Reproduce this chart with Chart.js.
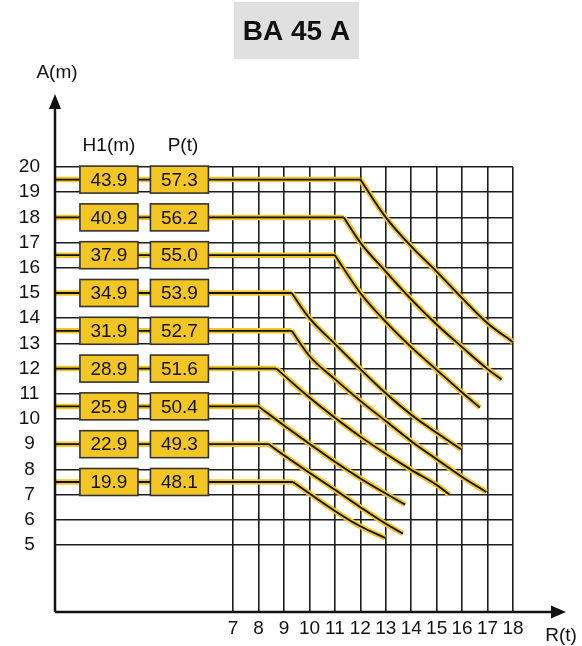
<!DOCTYPE html>
<html>
<head>
<meta charset="utf-8">
<script src="https://cdn.jsdelivr.net/npm/chart.js@4/dist/chart.umd.min.js"></script>
<style>
  html, body { margin: 0; padding: 0; background: #fff; }
  #wrap { width: 582px; height: 646px; position: relative; }
</style>
</head>
<body>
<div id="wrap"><canvas id="c"></canvas></div>
<script>
// diagramma di carico BA 45 A
const title = 'BA 45 A';
const xTicks = [7, 8, 9, 10, 11, 12, 13, 14, 15, 16, 17, 18];
const yTicks = [5, 6, 7, 8, 9, 10, 11, 12, 13, 14, 15, 16, 17, 18, 19, 20];
const levels = [19.5, 18, 16.5, 15, 13.5, 12, 10.5, 9, 7.5];
const h1Labels = ['43.9', '40.9', '37.9', '34.9', '31.9', '28.9', '25.9', '22.9', '19.9'];
const pLabels = ['57.3', '56.2', '55.0', '53.9', '52.7', '51.6', '50.4', '49.3', '48.1'];
const radii = [
  [0, 12, 13, 14, 15, 16, 17, 18],
  [0, 11.35, 12, 13, 14, 15, 16, 17, 17.55],
  [0, 11, 12, 13, 14, 15, 16, 16.7],
  [0, 9.3, 10, 11, 12, 13, 14, 15, 15.95],
  [0, 9.3, 10, 11, 12, 13, 14, 15, 16, 16.95],
  [0, 8.7, 10, 11, 12, 13, 14, 15, 15.5],
  [0, 8, 9, 10, 11, 12, 13, 13.76],
  [0, 8.4, 9, 10, 11, 12, 13, 13.67],
  [0, 9.35, 10, 11, 12, 12.97]
];
const heights = [
  [19.5, 19.5, 18.0, 16.85, 15.85, 14.8, 13.8, 13.05],
  [18, 18, 17.0, 15.85, 14.75, 13.75, 12.85, 11.98, 11.57],
  [16.5, 16.5, 15.0, 13.85, 12.85, 11.95, 11.05, 10.45],
  [15, 15, 14.0, 12.98, 11.98, 11.02, 10.17, 9.45, 8.8],
  [13.5, 13.5, 12.5, 11.58, 10.72, 9.92, 9.12, 8.4, 7.7, 7.1],
  [12, 12, 10.85, 10.05, 9.3, 8.62, 7.98, 7.38, 7.0],
  [10.5, 10.5, 9.74, 9.02, 8.3, 7.64, 7.04, 6.6],
  [9, 9, 8.56, 7.87, 7.19, 6.5, 5.84, 5.45],
  [7.5, 7.5, 7.04, 6.35, 5.74, 5.28]
];

const FONT = '"Liberation Sans", Arial, sans-serif';
const GOLD = '#f3c623';
const INK = '#111';

// ogni curva: tratto orizzontale fino al punto di rottura + tratto curvo
const datasets = [];
radii.forEach(function(xs, i){
  const pts = xs.map(function(x, k){ return { x: x, y: heights[i][k] }; });
  const flat = pts.slice(0, 2), bend = pts.slice(1);
  [[flat, 'default'], [bend, 'monotone']].forEach(function(p){
    datasets.push({ data: p[0], borderColor: INK, borderWidth: 1.8, order: 1, cubicInterpolationMode: p[1] });
    datasets.push({ data: p[0], borderColor: GOLD, borderWidth: 5.5, order: 2, cubicInterpolationMode: p[1] });
  });
});

const decor = {
  id: 'decor',
  afterDraw: function(chart){
    const ctx = chart.ctx, a = chart.chartArea;
    const xs = chart.scales.x, ys = chart.scales.y;
    ctx.save();
    // titolo
    ctx.fillStyle = '#e0e0e0';
    ctx.fillRect(234, 2, 125, 57);
    ctx.fillStyle = INK;
    ctx.font = 'bold 28px ' + FONT;
    ctx.textAlign = 'center'; ctx.textBaseline = 'middle';
    ctx.fillText(title, 296.5, 32);
    // frecce assi
    ctx.strokeStyle = INK; ctx.fillStyle = INK; ctx.lineWidth = 2.5;
    ctx.beginPath();
    ctx.moveTo(a.left, a.bottom); ctx.lineTo(a.left, 105);
    ctx.moveTo(a.left, a.bottom); ctx.lineTo(556, a.bottom);
    ctx.stroke();
    ctx.beginPath();
    ctx.moveTo(a.left, 94); ctx.lineTo(a.left - 6, 109); ctx.lineTo(a.left + 6, 109); ctx.closePath();
    ctx.fill();
    ctx.beginPath();
    ctx.moveTo(566, a.bottom); ctx.lineTo(551, a.bottom - 6.5); ctx.lineTo(551, a.bottom + 6.5); ctx.closePath();
    ctx.fill();
    ctx.font = '19px ' + FONT;
    ctx.fillText('A(m)', 57, 73);
    ctx.fillText('R(t)', 561, 636);
    ctx.fillText('H1(m)', 109, 146);
    ctx.fillText('P(t)', 183, 146);
    // riquadri valori
    const bw = 58, bh = 27;
    levels.forEach(function(lv, i){
      const py = ys.getPixelForValue(lv);
      [[xs.getPixelForValue(2.12), h1Labels[i]], [xs.getPixelForValue(4.89), pLabels[i]]].forEach(function(b){
        ctx.fillStyle = GOLD;
        ctx.fillRect(b[0] - bw / 2, py - bh / 2, bw, bh);
        ctx.strokeStyle = '#333'; ctx.lineWidth = 1.6;
        ctx.strokeRect(b[0] - bw / 2, py - bh / 2, bw, bh);
        ctx.fillStyle = INK;
        ctx.fillText(b[1], b[0], py + 1);
      });
    });
    ctx.restore();
  }
};

new Chart(document.getElementById('c'), {
  type: 'line',
  data: { datasets: datasets },
  options: {
    responsive: true, maintainAspectRatio: false, animation: false,
    layout: { padding: { top: 167, right: 69, left: 0, bottom: 0 } },
    elements: { point: { radius: 0 }, line: { tension: 0, borderCapStyle: 'butt', borderJoinStyle: 'round' } },
    datasets: { line: { clip: false } },
    plugins: { legend: { display: false }, tooltip: { enabled: false } },
    scales: {
      x: {
        type: 'linear', min: 0, max: 18,
        afterBuildTicks: function(s){ s.ticks = xTicks.map(function(v){ return { value: v }; }); },
        afterFit: function(s){ s.height = 34; },
        grid: { color: '#1c1c1c', lineWidth: 1.6, drawTicks: false },
        border: { display: false },
        ticks: { color: INK, font: { family: FONT, size: 19 }, padding: 5, maxRotation: 0, autoSkip: false }
      },
      y: {
        type: 'linear', min: 2.34, max: 20,
        afterBuildTicks: function(s){ s.ticks = yTicks.map(function(v){ return { value: v }; }); },
        afterFit: function(s){ s.width = 55; },
        grid: { color: '#1c1c1c', lineWidth: 1.6, drawTicks: false },
        border: { display: false },
        ticks: { color: INK, font: { family: FONT, size: 19 }, padding: 15, crossAlign: 'center', autoSkip: false }
      }
    }
  },
  plugins: [decor]
});
</script>
</body>
</html>
